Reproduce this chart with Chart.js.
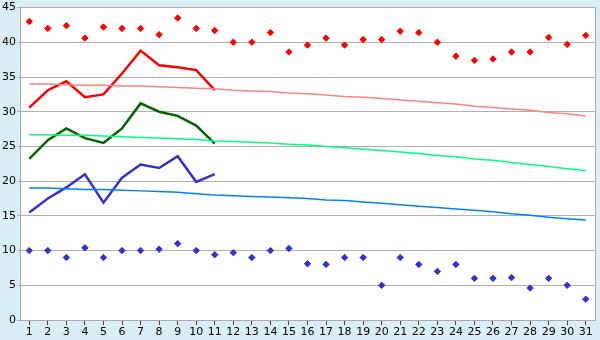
<!DOCTYPE html>
<html>
<head>
<meta charset="utf-8">
<script src="https://cdn.jsdelivr.net/npm/chart.js@4"></script>
<style>
    html, body { margin: 0; padding: 0; background: #d9eef5; }
    #wrap { width: 600px; height: 340px; }
</style>
</head>
<body>
<div id="wrap"><canvas id="chart"></canvas></div>
<script>
// Daily temperatures for the month

const days = Array.from({ length: 31 }, (_, i) => String(i + 1));

const recordHigh = [43, 42, 42.4, 40.6, 42.2, 42, 42, 41.1, 43.5, 42, 41.7, 40, 40, 41.4, 38.6,
    39.6, 40.6, 39.6, 40.4, 40.4, 41.6, 41.4, 40, 38, 37.4, 37.6, 38.6, 38.6, 40.7, 39.7, 41];
const recordLow = [10, 10, 9, 10.4, 9, 10, 10, 10.2, 11, 10, 9.4, 9.7, 9, 10, 10.3,
    8.1, 8, 9, 9, 5, 9, 8, 7, 8, 6, 6, 6.1, 4.6, 6, 5, 3];

const dayMax = [30.6, 33.1, 34.4, 32.1, 32.5, 35.5, 38.8, 36.7, 36.4, 36, 33.1];
const dayMean = [23.2, 25.9, 27.6, 26.2, 25.5, 27.6, 31.2, 30, 29.4, 28, 25.4];
const dayMin = [15.5, 17.5, 19.1, 21, 16.9, 20.5, 22.4, 21.9, 23.6, 19.9, 21];

const normalMax = [34.0, 34.0, 33.9, 33.8, 33.8, 33.7, 33.7, 33.6, 33.5, 33.4, 33.3, 33.1, 33.0, 32.9, 32.7,
    32.6, 32.4, 32.2, 32.1, 31.9, 31.7, 31.5, 31.3, 31.1, 30.8, 30.6, 30.4, 30.2, 29.9, 29.7, 29.4];
const normalMean = [26.7, 26.7, 26.6, 26.6, 26.5, 26.4, 26.3, 26.2, 26.1, 26.0, 25.8, 25.7, 25.6, 25.5, 25.3,
    25.2, 25.0, 24.8, 24.6, 24.4, 24.2, 24.0, 23.7, 23.5, 23.2, 23.0, 22.7, 22.4, 22.1, 21.8, 21.5];
const normalMin = [19.0, 19.0, 18.9, 18.8, 18.8, 18.7, 18.6, 18.5, 18.4, 18.2, 18.0, 17.9, 17.8, 17.7, 17.6,
    17.5, 17.3, 17.2, 17.0, 16.8, 16.6, 16.4, 16.2, 16.0, 15.8, 15.6, 15.3, 15.1, 14.8, 14.6, 14.4];

const yTicks = [0, 5, 10, 15, 20, 25, 30, 35, 40, 45];

// white plot area on the blue page
const plotBackground = {
    id: 'plotBackground',
    beforeDraw(chart) {
        const { ctx, chartArea: a } = chart;
        ctx.save();
        ctx.fillStyle = '#ffffff';
        ctx.fillRect(a.left, a.top, a.right - a.left, a.bottom - a.top);
        ctx.strokeStyle = '#aaaaaa';
        ctx.lineWidth = 1;
        ctx.beginPath();
        ctx.moveTo(Math.round(a.right) + 0.5, a.top);
        ctx.lineTo(Math.round(a.right) + 0.5, a.bottom);
        ctx.stroke();
        ctx.restore();
    }
};

function lineSet(data, color, width) {
    return { type: 'line', data, borderColor: color, borderWidth: width, pointRadius: 0, tension: 0, fill: false };
}

function markerSet(data, color) {
    return {
        type: 'line', data, showLine: false, pointStyle: 'rectRot', pointRadius: 3.2,
        pointBackgroundColor: color, pointBorderColor: color, borderColor: color, pointBorderWidth: 1
    };
}

new Chart(document.getElementById('chart'), {
    type: 'line',
    data: {
        labels: days,
        datasets: [
            lineSet(normalMax, '#ff8080', 1.5),
            lineSet(normalMean, '#00ff80', 1.5),
            lineSet(normalMin, '#0080ff', 1.5),
            lineSet(dayMax, '#ff0000', 2.5),
            lineSet(dayMean, '#006600', 2.5),
            lineSet(dayMin, '#3333cc', 2.5),
            markerSet(recordHigh, '#ff0000'),
            markerSet(recordLow, '#3333cc')
        ]
    },
    options: {
        responsive: true,
        maintainAspectRatio: false,
        animation: false,
        layout: { padding: { top: 5, right: 5, left: 0, bottom: 0 } },
        plugins: { legend: { display: false }, tooltip: { enabled: false } },
        scales: {
            x: {
                offset: true,
                grid: { drawOnChartArea: false, drawTicks: true, tickLength: 5, color: '#444', offset: false },
                border: { color: '#aaaaaa' },
                ticks: { color: '#000', font: { family: 'DejaVu Sans', size: 11 }, padding: 1, maxRotation: 0, autoSkip: false },
                afterFit(scale) { scale.height = 20; }
            },
            y: {
                min: 0,
                max: 45,
                afterBuildTicks(scale) { scale.ticks = yTicks.map(v => ({ value: v })); },
                grid: { color: '#b0b0b0', tickLength: 3 },
                border: { color: '#aaaaaa' },
                ticks: { color: '#000', font: { family: 'DejaVu Sans', size: 11 }, padding: 1 },
                afterFit(scale) { scale.width = 20; }
            }
        }
    },
    plugins: [plotBackground]
});
</script>
</body>
</html>
